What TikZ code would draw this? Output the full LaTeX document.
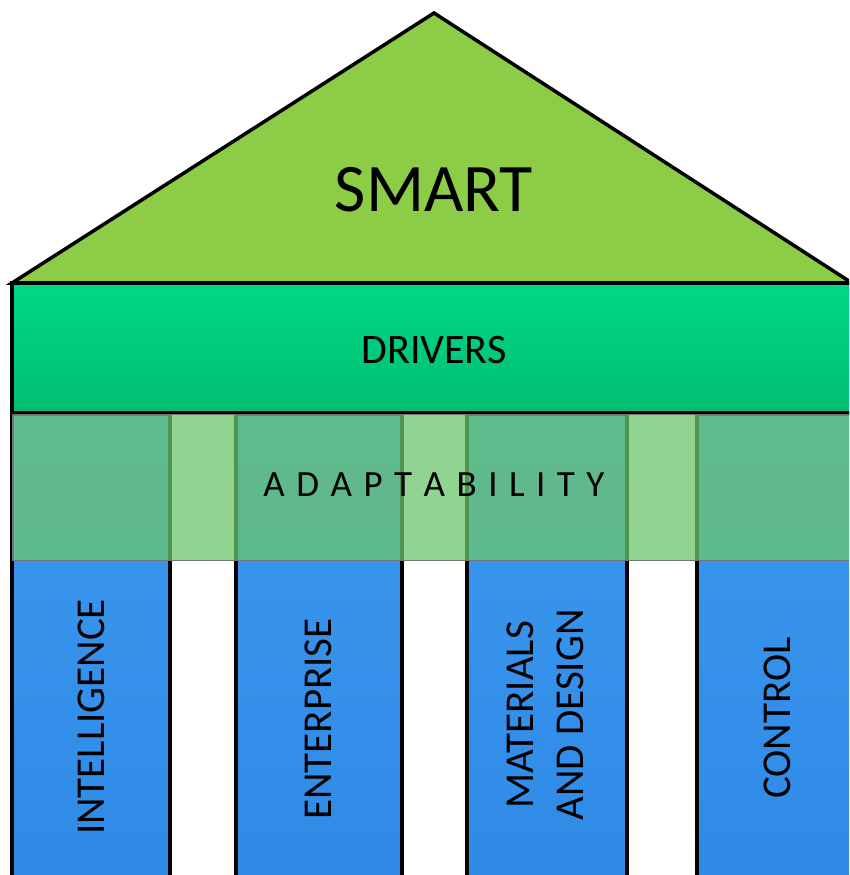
\documentclass[tikz,border=0pt]{standalone}
\usepackage{fontspec}
\setmainfont{Carlito}
\usepackage{tikz}
\usetikzlibrary{arrows}

\definecolor{roofgreen}{RGB}{140,204,70}
\definecolor{drvtop}{RGB}{0,216,134}
\definecolor{drvbot}{RGB}{0,190,114}
\definecolor{pilltop}{RGB}{60,152,238}
\definecolor{pillbot}{RGB}{46,138,230}
\definecolor{bandgreen}{RGB}{108,198,108}

\newcommand{\spc}{\kern 11.5pt}

\begin{document}
\begin{tikzpicture}[x=1pt,y=-1pt,line join=miter,
  roof/.style={draw,line width=3.5pt,fill=roofgreen},
  driver box/.style={draw,line width=3.5pt,top color=drvtop,bottom color=drvbot},
  pillar/.style={draw,line width=3.5pt,top color=pilltop,bottom color=pillbot},
  band/.style={fill=bandgreen,fill opacity=0.75,draw=black!55,line width=1pt},
  big label/.style={font=\fontsize{68}{80}\selectfont},
  mid label/.style={font=\fontsize{42}{50}\selectfont},
  band label/.style={font=\fontsize{37}{44}\selectfont},
  pillar label/.style={rotate=90,align=center,font=\fontsize{41}{50}\selectfont}]
  \clip (0,0) rectangle (849,875);

  % roof and lintel
  \draw[roof] (12,283) -- (434,13) -- (852,283) -- cycle;
  \draw[driver box] (12,283) rectangle (860,413);

  % pillars, running up behind the band
  \foreach \l/\r in {12/170,236/402,467/627,697/860}
    \draw[pillar] (\l,414) rectangle (\r,885);

  \path[band] (12,414) rectangle (860,560);

  \node[big label]  (smart)   at (434,190) {SMART};
  \node[mid label]  (drivers) at (434,350) {DRIVERS};
  \node[band label] (adapt)   at (434,485)
    {A\spc D\spc A\spc P\spc T\spc A\spc B\spc I\spc L\spc I\spc T\spc Y};

  \node[pillar label] (intel)  at (91,717)  {INTELLIGENCE};
  \node[pillar label] (enter)  at (318,719) {ENTERPRISE};
  \node[pillar label] (mater)  at (545,715) {MATERIALS\\AND DESIGN};
  \node[pillar label] (contrl) at (777,718) {CONTROL};
\end{tikzpicture}
\end{document}
